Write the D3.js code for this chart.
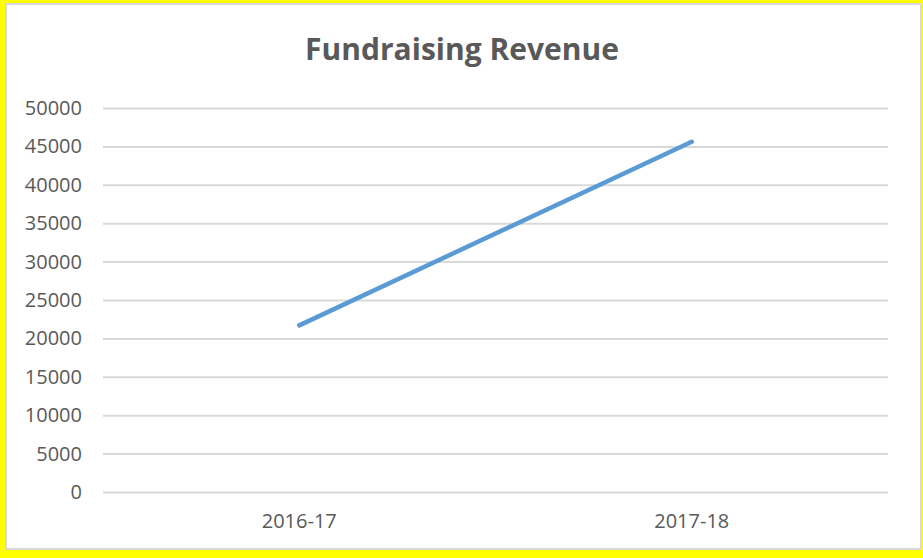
<!DOCTYPE html>
<html><head><meta charset="utf-8">
<script src="https://cdn.jsdelivr.net/npm/d3@7"></script>
<style>html,body{margin:0;padding:0;background:#ffff00;}svg{display:block;}</style>
</head><body>
<svg id="c" width="923" height="558"></svg>
<script>
const categories = ["2016-17", "2017-18"];
const revenue = [21700, 45600];
const yTicks = [0, 5000, 10000, 15000, 20000, 25000, 30000, 35000, 40000, 45000, 50000];
const title = "Fundraising Revenue";

const svg = d3.select("#c");
svg.append("rect").attr("x", 6).attr("y", 4).attr("width", 915).attr("height", 545)
  .attr("fill", "#fff").attr("stroke", "#d9d9d9").attr("stroke-width", 2);

const x = d3.scaleBand().domain(categories).range([103, 888]);
const y = d3.scaleLinear().domain([0, 50000]).range([492, 108]);

const font = "'Open Sans', sans-serif";

svg.append("text").attr("x", 462).attr("y", 60).attr("text-anchor", "middle")
  .attr("font-family", font).attr("font-weight", "bold").attr("font-size", 30)
  .attr("fill", "#595959").text(title);

const ya = svg.append("g").attr("transform", "translate(103,0)")
  .call(d3.axisLeft(y).tickValues(yTicks).tickSize(-785).tickPadding(21).tickFormat(d3.format("d")));
ya.select(".domain").remove();
ya.selectAll(".tick line").attr("stroke", "#d9d9d9").attr("stroke-width", 2);
ya.selectAll(".tick text").attr("font-family", font).attr("font-size", 20).attr("fill", "#595959");

const xa = svg.append("g").attr("transform", "translate(0,492)")
  .call(d3.axisBottom(x).tickSize(0).tickPadding(22));
xa.select(".domain").remove();
xa.selectAll(".tick text").attr("font-family", font).attr("font-size", 20).attr("fill", "#595959");

const line = d3.line().x((d, i) => x(categories[i]) + x.bandwidth() / 2).y(d => y(d));
svg.append("path").datum(revenue).attr("d", line).attr("fill", "none")
  .attr("stroke", "#5b9bd5").attr("stroke-width", 4.5).attr("stroke-linecap", "round");
</script>
</body></html>
